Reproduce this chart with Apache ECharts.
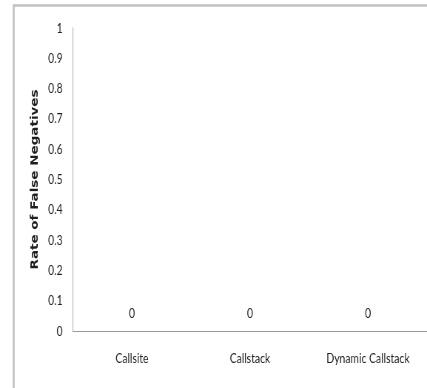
<!DOCTYPE html>
<html>
<head>
<meta charset="utf-8">
<script src="https://cdn.jsdelivr.net/npm/echarts@6/dist/echarts.min.js"></script>
<style>
  html, body { margin: 0; padding: 0; background: #ffffff; overflow: hidden; width: 427px; height: 388px; }
  /* The chart is laid out wider and then narrowed horizontally, giving the
     tall, condensed lettering of the original figure. */
  #chart { width: 577px; height: 388px; transform: scaleX(0.74); transform-origin: 0 0; }
</style>
</head>
<body>
<div id="chart"></div>
<script>
// Categories and measured false-negative rates per analysis mode
const categories = ['Callsite', 'Callstack', 'Dynamic Callstack'];
const falseNegativeRates = [0, 0, 0];
const yTickLabels = ['0', '0.1', '0.2', '0.3', '0.4', '0.5', '0.6', '0.7', '0.8', '0.9', '1'];

const labelFont = 'Lato, "Open Sans", sans-serif';

const chart = echarts.init(document.getElementById('chart'), null, { renderer: 'canvas' });

chart.setOption({
  backgroundColor: '#ffffff',
  animation: false,
  graphic: [{
    type: 'rect',
    shape: { x: 18.5, y: 5.5, width: 600, height: 420 },
    style: { fill: 'none', stroke: '#c2c2c2', lineWidth: 2.6 },
    silent: true,
    z: -1
  }],
  grid: { left: 98.6, top: 28, right: -4, height: 303, containLabel: false },
  xAxis: {
    type: 'category',
    data: categories,
    axisLine: { show: true, lineStyle: { color: '#9a9a9a', width: 1.2 } },
    axisTick: { show: false },
    axisLabel: { color: '#1e1e1e', fontFamily: labelFont, fontSize: 14, margin: 20, interval: 0 },
    splitLine: { show: false }
  },
  yAxis: {
    type: 'value',
    min: 0,
    max: 1,
    interval: 0.1,
    name: 'Rate of False Negatives',
    nameLocation: 'middle',
    nameGap: 44,
    nameRotate: 90,
    nameTextStyle: { fontFamily: '"DejaVu Sans", sans-serif', fontWeight: 'bold', fontSize: 13.5, color: '#1e1e1e' },
    axisLine: { show: true, lineStyle: { color: '#c4c4c4', width: 1.4 } },
    axisTick: { show: false },
    splitLine: { show: false },
    axisLabel: {
      color: '#1e1e1e', fontFamily: labelFont, fontSize: 14, margin: 14,
      formatter: function (v) {
        const i = Math.round(v * 10);
        return yTickLabels[i];
      }
    }
  },
  series: [{
    type: 'bar',
    data: falseNegativeRates,
    barWidth: '40%',
    itemStyle: { color: '#4f81bd' },
    label: {
      show: true,
      position: 'top',
      distance: 11,
      color: '#1e1e1e',
      fontFamily: labelFont,
      fontSize: 14
    }
  }]
});
</script>
</body>
</html>
